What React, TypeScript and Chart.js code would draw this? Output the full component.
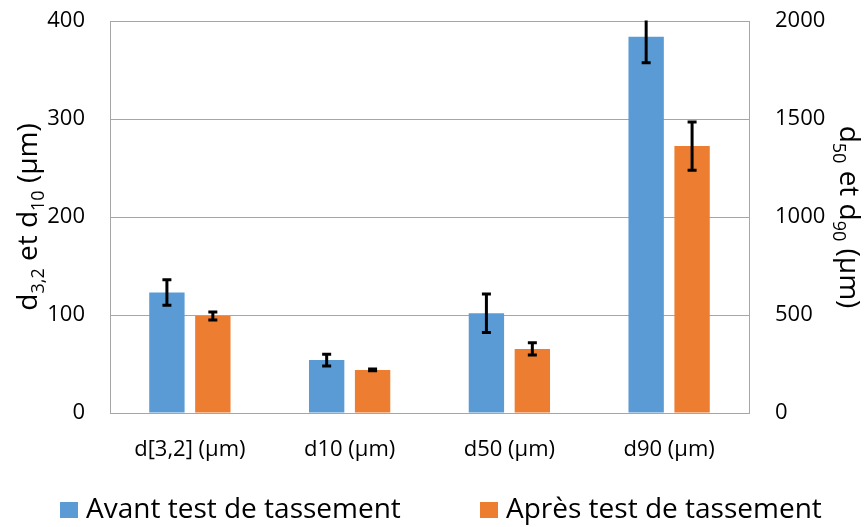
import React, { useEffect, useRef } from "react";
import { Chart, registerables } from "chart.js";

Chart.register(...registerables);

// ---------- data ----------
const categories = ["d[3,2] (µm)", "d10 (µm)", "d50 (µm)", "d90 (µm)"];
// which axis each category is read on: left (d3,2 and d10) or right (d50 and d90)
const categoryAxis = ["y", "y", "y2", "y2"];
const avantValues = [123, 54, 509, 1920];
const avantErrors = [13, 6, 98, 133];
const apresValues = [99, 44, 327, 1362];
const apresErrors = [4, 1, 31, 123];
const seriesNames = ["Avant test de tassement", "Après test de tassement"];
const seriesColors = ["#5B9BD5", "#ED7D31"];
const leftTicks = [0, 100, 200, 300, 400];
const rightTicks = [0, 500, 1000, 1500, 2000];
const leftTitle = [
  { t: "d", sub: false },
  { t: "3,2", sub: true },
  { t: " et d", sub: false },
  { t: "10", sub: true },
  { t: " (µm)", sub: false },
];
const rightTitle = [
  { t: "d", sub: false },
  { t: "50", sub: true },
  { t: " et d", sub: false },
  { t: "90", sub: true },
  { t: " (µm)", sub: false },
];

const FONT = "'Open Sans', 'Noto Sans', sans-serif";
const GRID = "#a6a6a6";

function pick(values: number[], axis: string) {
  return values.map((v, i) => (categoryAxis[i] === axis ? v : null));
}

const errorBarPlugin = {
  id: "errorBars",
  afterDatasetsDraw(chart: any) {
    const ctx = chart.ctx;
    const area = chart.chartArea;
    ctx.save();
    ctx.beginPath();
    ctx.rect(area.left, area.top - 0.5, area.right - area.left, area.bottom - area.top + 1);
    ctx.clip();
    ctx.strokeStyle = "#000";
    chart.data.datasets.forEach((ds: any, di: number) => {
      const meta = chart.getDatasetMeta(di);
      const scale = chart.scales[meta.yAxisID];
      meta.data.forEach((bar: any, i: number) => {
        const v = ds.data[i];
        if (v === null || v === undefined) return;
        const e = ds.errors[i];
        const yTop = scale.getPixelForValue(v + e);
        const yBot = scale.getPixelForValue(v - e);
        const x = bar.x;
        ctx.lineWidth = 3;
        ctx.beginPath();
        ctx.moveTo(x, yTop);
        ctx.lineTo(x, yBot);
        ctx.stroke();
        ctx.beginPath();
        ctx.moveTo(x - 4.5, yTop);
        ctx.lineTo(x + 4.5, yTop);
        ctx.moveTo(x - 4.5, yBot);
        ctx.lineTo(x + 4.5, yBot);
        ctx.stroke();
      });
    });
    ctx.restore();
  },
};

function drawRich(ctx: any, parts: any[], size: number, subSize: number, subDrop: number) {
  let total = 0;
  parts.forEach((p) => {
    ctx.font = `${p.sub ? subSize : size}px ${FONT}`;
    total += ctx.measureText(p.t).width;
  });
  let x = -total / 2;
  parts.forEach((p) => {
    ctx.font = `${p.sub ? subSize : size}px ${FONT}`;
    ctx.fillText(p.t, x, p.sub ? subDrop : 0);
    x += ctx.measureText(p.t).width;
  });
}

const titlePlugin = {
  id: "axisTitles",
  afterDraw(chart: any) {
    const ctx = chart.ctx;
    const area = chart.chartArea;
    const cy = (area.top + area.bottom) / 2;
    ctx.save();
    ctx.fillStyle = "#000";
    ctx.textBaseline = "alphabetic";
    ctx.textAlign = "left";
    ctx.save();
    ctx.translate(37, cy);
    ctx.rotate(-Math.PI / 2);
    drawRich(ctx, leftTitle, 28, 18, 7);
    ctx.restore();
    ctx.save();
    ctx.translate(840, cy);
    ctx.rotate(Math.PI / 2);
    drawRich(ctx, rightTitle, 28, 18, 7);
    ctx.restore();
    ctx.restore();
  },
};

const legendPlugin = {
  id: "bottomLegend",
  afterDraw(chart: any) {
    const ctx = chart.ctx;
    ctx.save();
    ctx.font = `28px ${FONT}`;
    ctx.textBaseline = "alphabetic";
    ctx.textAlign = "left";
    const starts = [60, 480];
    seriesNames.forEach((name, i) => {
      const x = starts[i];
      ctx.fillStyle = seriesColors[i];
      ctx.fillRect(x, 502, 18, 16);
      ctx.fillStyle = "#000";
      ctx.fillText(name, x + 26, 518);
    });
    ctx.restore();
  },
};

export default function App() {
  const ref = useRef<HTMLCanvasElement | null>(null);
  useEffect(() => {
    if (!ref.current) return;
    const makeSet = (si: number, values: number[], errors: number[], axis: string) => ({
      label: seriesNames[si],
      data: pick(values, axis),
      errors,
      yAxisID: axis,
      backgroundColor: seriesColors[si],
      borderWidth: 0,
      skipNull: true,
      barPercentage: 0.77,
      categoryPercentage: 0.575,
    });
    const chart = new Chart(ref.current, {
      type: "bar",
      data: {
        labels: categories,
        datasets: [
          makeSet(0, avantValues, avantErrors, "y"),
          makeSet(1, apresValues, apresErrors, "y"),
          makeSet(0, avantValues, avantErrors, "y2"),
          makeSet(1, apresValues, apresErrors, "y2"),
        ] as any,
      },
      options: {
        animation: false,
        responsive: false,
        layout: { padding: { top: 21, bottom: 64, left: 0, right: 0 } },
        plugins: {
          legend: { display: false },
          tooltip: { enabled: false },
        },
        scales: {
          x: {
            grid: { display: false },
            border: { display: false },
            ticks: { color: "#000", font: { family: FONT, size: 22 }, padding: 16, maxRotation: 0 },
            afterFit: (s: any) => {
              s.height = 50;
              s.paddingLeft = 0;
              s.paddingRight = 0;
            },
          },
          y: {
            position: "left",
            min: 0,
            max: 400,
            afterBuildTicks: (s: any) => {
              s.ticks = leftTicks.map((v) => ({ value: v }));
            },
            grid: { color: GRID, lineWidth: 1, drawTicks: false },
            border: { display: true, color: GRID, width: 1 },
            ticks: { color: "#000", font: { family: FONT, size: 22 }, padding: 25, callback: (v: any) => String(v) },
            afterFit: (s: any) => {
              s.width = 110;
              s.paddingTop = 0;
              s.paddingBottom = 0;
            },
          },
          y2: {
            position: "right",
            min: 0,
            max: 2000,
            afterBuildTicks: (s: any) => {
              s.ticks = rightTicks.map((v) => ({ value: v }));
            },
            grid: { drawOnChartArea: false, drawTicks: false },
            border: { display: true, color: GRID, width: 1 },
            ticks: { color: "#000", font: { family: FONT, size: 22 }, padding: 26, callback: (v: any) => String(v) },
            afterFit: (s: any) => {
              s.width = 116;
              s.paddingTop = 0;
              s.paddingBottom = 0;
            },
          },
        },
      } as any,
      plugins: [errorBarPlugin, titlePlugin, legendPlugin],
    });
    return () => chart.destroy();
  }, []);
  return (
    <div style={{ position: "absolute", left: 0, top: 0, width: 865, height: 527, background: "#fff" }}>
      <canvas ref={ref} width={865} height={527} />
    </div>
  );
}
